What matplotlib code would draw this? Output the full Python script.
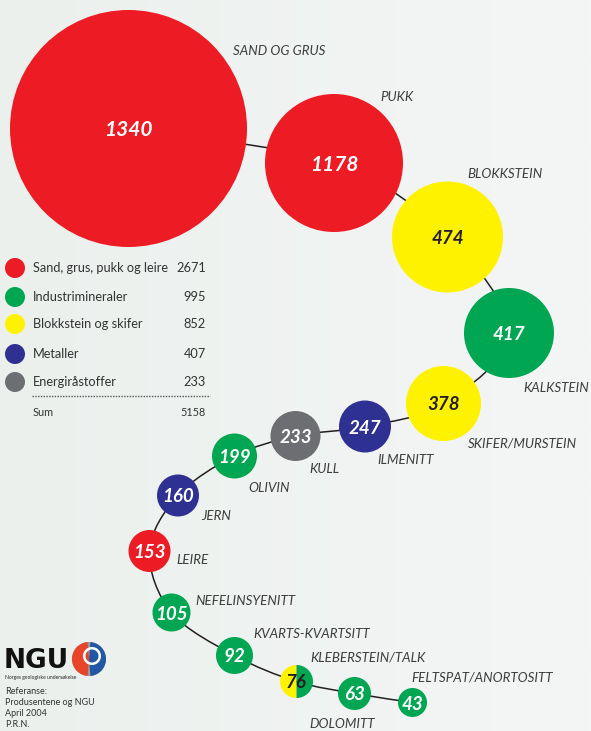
import matplotlib
matplotlib.use("Agg")
import matplotlib.pyplot as plt
import numpy as np
from matplotlib.patches import Circle, Wedge
from matplotlib.path import Path
from matplotlib.patches import PathPatch
from matplotlib.colors import LinearSegmentedColormap

# ---------------- data ----------------
minerals = ["SAND OG GRUS", "PUKK", "BLOKKSTEIN", "KALKSTEIN", "SKIFER/MURSTEIN",
            "ILMENITT", "KULL", "OLIVIN", "JERN", "LEIRE", "NEFELINSYENITT",
            "KVARTS-KVARTSITT", "KLEBERSTEIN/TALK", "DOLOMITT", "FELTSPAT/ANORTOSITT"]
values = [1340, 1178, 474, 417, 378, 247, 233, 199, 160, 153, 105, 92, 76, 63, 43]
groups = ["sand", "sand", "blokk", "ind", "blokk", "met", "energi", "ind", "met",
          "sand", "ind", "ind", "blokk+ind", "ind", "ind"]

legend_labels = ["Sand, grus, pukk og leire", "Industrimineraler", "Blokkstein og skifer",
                 "Metaller", "Energiråstoffer"]
legend_keys = ["sand", "ind", "blokk", "met", "energi"]
legend_values = [2671, 995, 852, 407, 233]
sum_label = "Sum"
sum_value = 5158

# ---------------- layout / style ----------------
colors = {"sand": "#ED1C24", "ind": "#00A651", "blokk": "#FFF200",
          "met": "#2E3192", "energi": "#6D6E71"}
dark = "#231F20"

# bubble centres (pixel coords) and radii
cx = [128.5, 334, 447.5, 509, 443.5, 365, 295.5, 234.5, 178, 149.5, 171.5, 234.5, 296.5, 354.5, 412.5]
cy = [128.5, 163, 237, 333, 403.5, 426.5, 436, 456, 495.5, 551, 612.5, 655.5, 681.5, 693.5, 702.5]
rad = [118.5, 69, 55.5, 45, 37.5, 26, 25, 22.5, 21, 21, 19, 18.5, 16.5, 16.5, 14.5]

# label anchor (left x, centre y)
lx = [233, 380, 467, 523, 468, 377, 309, 248, 201, 176, 195, 253, 310, 309, 411]
ly = [51, 97, 174, 388, 444, 460, 469, 488, 516, 560, 601, 633.5, 657, 724.5, 677.5]

W, H = 591, 731
fig = plt.figure(figsize=(W / 100, H / 100), dpi=100)
ax = fig.add_axes([0, 0, 1, 1])
ax.set_xlim(0, W)
ax.set_ylim(H, 0)
ax.axis("off")

# background gradient
grad = np.linspace(0, 1, 256)[None, :]
bg = LinearSegmentedColormap.from_list("bg", ["#ebf0ed", "#f4f6f5"])
ax.imshow(grad, extent=[0, W, H, 0], cmap=bg, aspect="auto", zorder=0)

# connecting curve (Catmull-Rom as cubic Beziers)
pts = np.column_stack([cx, cy])
ext = np.vstack([pts[0], pts, pts[-1]])
verts = [tuple(pts[0])]
codes = [Path.MOVETO]
for i in range(1, len(ext) - 2):
    p0, p1, p2, p3 = ext[i - 1], ext[i], ext[i + 1], ext[i + 2]
    c1 = p1 + (p2 - p0) / 6.0
    c2 = p2 - (p3 - p1) / 6.0
    verts += [tuple(c1), tuple(c2), tuple(p2)]
    codes += [Path.CURVE4] * 3
ax.add_patch(PathPatch(Path(verts, codes), fill=False, edgecolor=dark, lw=1.1, zorder=1))

lab_font = "Lato"
num_font = "Lato"

for name, v, g, x, y, r, tx, ty in zip(minerals, values, groups, cx, cy, rad, lx, ly):
    if "+" in g:
        a, b = g.split("+")
        ax.add_patch(Wedge((x, y), r, 90, 270, facecolor=colors[a], edgecolor="none", zorder=2))
        ax.add_patch(Wedge((x, y), r, 270, 90, facecolor=colors[b], edgecolor="none", zorder=2))
        tcol = dark
    else:
        ax.add_patch(Circle((x, y), r, facecolor=colors[g], edgecolor="none", zorder=2))
        tcol = dark if g == "blokk" else "white"
    fs = 15 if v > 1000 else 13.5
    ax.text(x, y, str(v), ha="center", va="center_baseline", color=tcol, fontsize=fs,
            fontweight="bold", fontstyle="italic", family=num_font, zorder=3)
    ax.text(tx, ty, name, ha="left", va="center", color="#3d3d3d", fontsize=9.6,
            fontstyle="italic", fontweight="normal", family=lab_font, zorder=3)

# legend
leg_y = [268, 297, 324, 354, 382]
for lab, key, val, y in zip(legend_labels, legend_keys, legend_values, leg_y):
    ax.add_patch(Circle((15, y), 10, facecolor=colors[key], edgecolor="none", zorder=2))
    ax.text(33, y, lab, ha="left", va="center", fontsize=9.2, color="#333333", family="Lato")
    ax.text(206, y, str(val), ha="right", va="center", fontsize=9.2, color="#333333", family="Lato")
ax.plot([32, 210], [396, 396], ls=(0, (1, 1)), color="#555555", lw=1.0, zorder=2)
ax.text(33, 413, sum_label, ha="left", va="center", fontsize=7.8, color="#333333", family="Lato")
ax.text(206, 413, str(sum_value), ha="right", va="center", fontsize=7.8, color="#333333", family="Lato")

# NGU logo
ax.text(4, 668, "NGU", ha="left", va="baseline", fontsize=19, fontweight="heavy",
        color="#111111", family="DejaVu Sans")
lc = (89, 659)
ax.add_patch(Circle(lc, 17, facecolor="#9a9a9a", edgecolor="none", zorder=2))
ax.add_patch(Wedge(lc, 17, 95, 265, facecolor="#E8442A", edgecolor="none", zorder=2))
ax.add_patch(Wedge(lc, 17, 275, 85, facecolor="#2456A6", edgecolor="none", zorder=2))
ax.add_patch(Wedge((lc[0] + 3, lc[1] - 3), 9, 0, 360, width=2.5, facecolor="white",
                   edgecolor="none", zorder=3))
ax.text(5, 678, "Norges geologiske undersøkelse", ha="left", va="center", fontsize=3.6,
        color="#222222", family="Lato")
for i, t in enumerate(["Referanse:", "Produsentene og NGU", "April 2004", "P.R.N."]):
    ax.text(5, 692 + i * 10.7, t, ha="left", va="center", fontsize=6.5, color="#333333", family="Lato")

fig.savefig("out.png", dpi=100)
